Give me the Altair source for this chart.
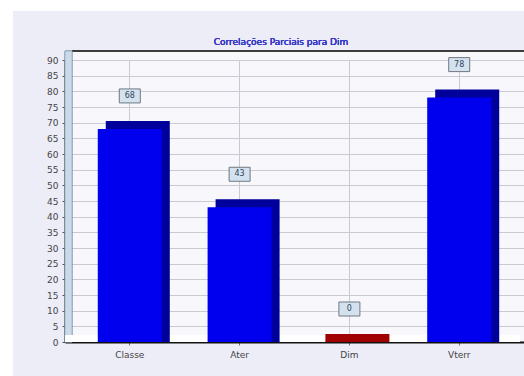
import altair as alt
import pandas as pd

categories = ["Classe", "Ater", "Dim", "Vterr"]
values = [68, 43, 0, 78]
front_colors = ["#0000EE", "#0000EE", "#DD0000", "#0000EE"]
side_colors = ["#00009A", "#00009A", "#A00000", "#00009A"]
y_ticks = list(range(0, 95, 5))
title_text = "Correlações Parciais para Dim"

df = pd.DataFrame({"cat": categories, "val": values,
                   "front": front_colors, "side": side_colors})

W, H = 459, 282
FONT = "DejaVu Sans"

xscale = alt.Scale(domain=categories, paddingInner=0, paddingOuter=0.09)
yscale = alt.Scale(domain=[0, 90])

x_axis = alt.Axis(labelAngle=0, grid=True, bandPosition=0.5,
                  gridColor="#CACAD4", gridWidth=1, domainColor="#111111",
                  domainWidth=2, tickColor="#777777", tickSize=3,
                  labelFont=FONT, labelFontSize=9, labelColor="#444444",
                  labelPadding=5)
y_axis = alt.Axis(values=y_ticks, grid=True, gridColor="#CACAD4",
                  domainColor="#111111", domainWidth=2, tickColor="#555555",
                  tickSize=3, labelFont=FONT, labelFontSize=9, labelOverlap=False,
                  labelColor="#444444", labelPadding=4)

x_enc = alt.X("cat:N", scale=xscale, sort=categories, title=None, axis=x_axis)
y_enc = alt.Y("val:Q", scale=yscale, title=None, axis=y_axis)

base = alt.Chart(df)

# decorative frame pieces
white_top = base.mark_rect(color="white").encode(
    x=alt.value(-65), x2=alt.value(W), y=alt.value(-60), y2=alt.value(-49))
white_left = base.mark_rect(color="white").encode(
    x=alt.value(-65), x2=alt.value(-52), y=alt.value(-60), y2=alt.value(H + 34))
back_top = base.mark_rect(color="#F7F7FC").encode(
    x=alt.value(7), x2=alt.value(W), y=alt.value(-9), y2=alt.value(0))
back_line = base.mark_rule(color="#333333", strokeWidth=1).encode(
    x=alt.value(7), x2=alt.value(W), y=alt.value(-9))
left_wall = base.mark_rect(color="#C9DAEA", stroke="#8090A0", strokeWidth=0.5).encode(
    x=alt.value(0), x2=alt.value(7), y=alt.value(-9), y2=alt.value(H))
floor = base.mark_rect(color="#FFFFFF").encode(
    x=alt.value(0), x2=alt.value(W - 4), y=alt.value(H - 7), y2=alt.value(H))
title = base.mark_text(text=title_text, font=FONT, fontSize=9, fontWeight="normal",
                       color="#3A3AC8", align="center", baseline="middle").encode(
    x=alt.value(216), y=alt.value(-18))

side = base.mark_bar(width=64, xOffset=8, x2Offset=8, yOffset=-8).encode(
    x=x_enc, y=y_enc, y2=alt.datum(0),
    color=alt.Color("side:N", scale=None))
front = base.mark_bar(width=64).encode(
    x=x_enc, y=y_enc, color=alt.Color("front:N", scale=None))

box = base.mark_point(shape="M-1.5,-1 L1.5,-1 L1.5,1 L-1.5,1 Z", size=196,
                      filled=True, fill="#D4E2F0", stroke="#707880",
                      strokeWidth=1, opacity=1, yOffset=-33).encode(
    x=x_enc, y=y_enc)
label = base.mark_text(font=FONT, fontSize=8, color="#334455", yOffset=-33,
                       baseline="middle").encode(
    x=x_enc, y=y_enc, text="val:Q")

chart = alt.layer(white_top, white_left, back_top, back_line, left_wall, floor, title,
                  side, front, box, label).properties(
    width=W, height=H,
    padding={"left": 65, "top": 60, "right": 0, "bottom": 34},
    autosize=alt.AutoSizeParams(type="none"),
).configure(background="#EDEDF7").configure_view(fill="#F7F7FC", stroke=None)

chart.save("out.html", embed_options={"renderer": "svg", "actions": False})
